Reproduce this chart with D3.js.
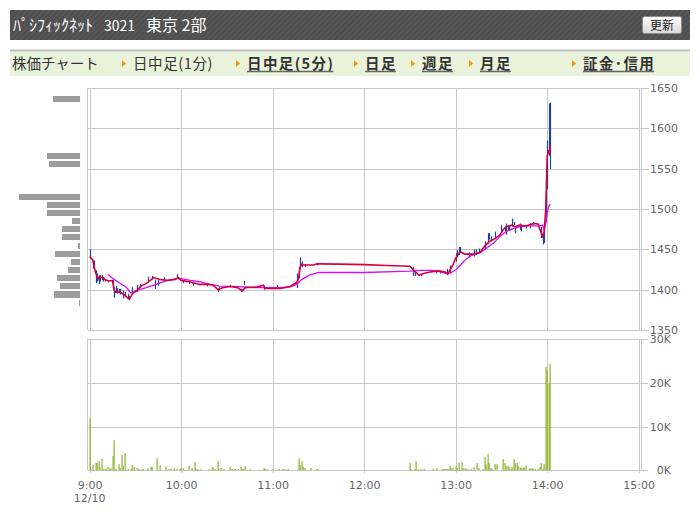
<!DOCTYPE html>
<html>
<head>
<meta charset="utf-8">
<script src="https://cdn.jsdelivr.net/npm/d3@7"></script>
<style>
body { margin: 0; background: #fff; }
svg text { font-family: "DejaVu Sans", sans-serif; }
</style>
</head>
<body>
<div id="chart"></div>
<script>
var W = 700, H = 525;
var JP = '"Noto Sans CJK JP", sans-serif';

// header + menu texts
var titleName = "ﾊﾟｼﾌｨｯｸﾈｯﾄ", titleCode = "3021", titleMarket = "東京 2部";
var refreshLabel = "更新";
var menuTitle = "株価チャート";
var navItems = ["日中足(1分)", "日中足(5分)", "日足", "週足", "月足", "証金･信用"];
var navLinked = [false, true, true, true, true, true];
var dateLabel = "12/10";

// axis ticks
var priceTicks = [1350, 1400, 1450, 1500, 1550, 1600, 1650];
var volTicks = [0, 10000, 20000, 30000];
var volTickLabels = ["0K", "10K", "20K", "30K"];
var timeTicks = [0, 60, 120, 180, 240, 300, 360]; // minutes after 9:00
var timeTickLabels = ["9:00", "10:00", "11:00", "12:00", "13:00", "14:00", "15:00"];

// 1 minute bars: [minute after 9:00, high, low]
var candles = [
  [0,1450,1439],[2,1436,1426],[3,1436,1430],[4,1424,1408],[5,1420,1410],[6,1418,1407],
  [7,1418,1410],[8,1418,1412],[9,1415,1410],[10,1412,1410],[12,1412,1409],[15,1412,1402],
  [16,1403,1390],[17,1405,1396],[18,1402,1395],[19,1401,1396],[20,1401,1394],[22,1399,1389],
  [23,1397,1391],[25,1395,1388],[26,1392,1388],[28,1403,1395],[31,1406,1397],[33,1407,1402],
  [38,1416,1410],[41,1417,1413],[43,1412,1401],[45,1412,1405],[49,1415,1410],[57,1419,1415],
  [61,1412,1408],[65,1410,1407],[68,1410,1405],[77,1408,1404],[84,1401,1397],[85,1403,1399],
  [92,1406,1403],[99,1401,1397],[101,1411,1406],[114,1403,1400],[123,1406,1403],[136,1420,1402],
  [137,1428,1414],[138,1440,1426],[139,1435,1428],[141,1432,1428],[149,1433,1430],[212,1428,1417],
  [213,1422,1417],[217,1420,1417],[225,1424,1422],[227,1424,1420],[230,1423,1420],[234,1426,1418],
  [236,1430,1420],[240,1445,1435],[241,1449,1441],[242,1453,1443],[243,1453,1447],[245,1446,1444],
  [249,1446,1440],[252,1450,1441],[253,1450,1443],[255,1451,1446],[259,1460,1450],[261,1470,1457],
  [262,1470,1462],[263,1466,1460],[266,1472,1464],[270,1480,1472],[272,1478,1472],[273,1482,1468],
  [274,1479,1474],[275,1480,1474],[277,1488,1478],[278,1484,1480],[279,1478,1470],[282,1482,1474],
  [283,1479,1472],[286,1479,1476],[289,1482,1476],[291,1484,1480],[296,1478,1464],[297,1468,1456],
  [298,1476,1458],[299,1521,1484],[300,1585,1525],[301,1631,1566],[302,1632,1550]
];

// red line: [minute, price]
var closeLine = [
  [0,1441],[2,1437],[3,1428],[4,1420],[6,1413],[7,1415],[9,1415],[10,1412.5],[12,1411],[15,1411],
  [16,1400],[17,1397],[19,1397],[21,1396],[23,1393],[26,1388],[28,1395],[31,1399],[34,1405],
  [37,1407.5],[42,1415],[46,1412.5],[51,1411.5],[56,1412.5],[58,1415],[60,1411.5],[66,1409.5],
  [72,1406.5],[78,1406.5],[81,1405.5],[84,1400],[87,1402.5],[92,1404],[97,1402.5],[100,1398.5],
  [102,1402.5],[110,1403.5],[114,1405.5],[115,1401.5],[125,1401.5],[131,1403.5],[134,1407],
  [136,1409.5],[137,1415],[138,1428],[139,1431.5],[140,1430.5],[147,1430.5],[149,1432],[164,1431.7],
  [180,1431],[195,1430],[210,1429],[213,1423],[216,1418],[219,1420],[223,1422],[229,1423.3],
  [233,1422],[235,1420],[238,1430],[240,1439],[243,1447],[246,1444],[251,1444],[256,1446],
  [259,1454],[262,1459.5],[266,1463.5],[269,1468],[271,1474],[273,1478],[277,1480],[279,1478],
  [282,1480],[286,1479],[291,1482],[294,1481.5],[295,1476],[297,1466],[298,1472],[299,1498],
  [300,1566],[301,1573],[301.5,1569],[302,1579]
];

// magenta line: [minute, price]
var avgLine = [
  [12,1419],[15,1414],[20,1408],[24,1403],[27,1396],[31,1399],[37,1402.5],[44,1407],[50,1411],
  [57,1414],[59,1414],[66,1411.5],[72,1410],[79,1406.5],[85,1404.5],[94,1404],[101,1403.5],
  [107,1402.5],[116,1402.5],[125,1402.5],[131,1403.5],[134,1405],[136,1407.5],[139,1412.5],
  [144,1418],[150,1421.3],[180,1421.3],[210,1423],[216,1424],[225,1424],[230,1422],[234,1420],
  [237,1421],[241,1426],[245,1434.6],[249,1441],[253,1444.5],[256,1446],[260,1451],[265,1458],
  [269,1466],[273,1472],[278,1476],[282,1478],[286,1479],[295,1479],[297,1480],[298,1474],
  [299,1482],[300,1495],[301,1503],[302,1506]
];

// volume per minute: [minute, shares]
var volumes = [
  [0,12000],[1,300],[2,1200],[4,1700],[5,1700],[6,2100],[7,600],[8,2600],[9,300],[10,300],[11,300],
  [12,800],[13,500],[14,300],[15,3300],[16,6900],[17,300],[19,1400],[20,500],[21,3500],[22,1000],
  [23,3900],[25,300],[27,300],[28,1200],[29,800],[31,500],[32,300],[34,300],[35,300],[38,500],
  [40,800],[41,800],[44,2800],[46,1200],[50,800],[52,300],[53,300],[55,500],[57,300],[59,300],
  [60,500],[61,500],[65,1000],[67,500],[69,1900],[70,300],[71,300],[73,300],[78,300],[80,500],
  [81,800],[82,300],[84,2100],[85,300],[86,500],[88,300],[92,800],[93,300],[95,300],[97,300],
  [99,800],[100,300],[101,300],[102,1000],[105,300],[114,500],[115,300],[116,300],[120,300],
  [124,300],[127,300],[128,300],[130,300],[137,2800],[138,1200],[139,2100],[140,800],[141,500],
  [145,500],[149,300],[150,300],
  [210,1700],[211,300],[213,300],[214,2100],[215,300],[217,300],[219,300],[225,300],[228,500],
  [231,300],[232,300],[233,300],[234,300],[235,300],[236,1000],[237,500],[238,500],[240,1000],
  [241,500],[242,1700],[244,1900],[245,500],[246,500],[247,300],[248,300],[250,300],[252,750],
  [254,1700],[255,500],[258,300],[259,3000],[260,1400],[261,3700],[262,1700],[263,500],[264,300],
  [266,1400],[267,1400],[271,2600],[272,1700],[273,1000],[274,1000],[275,750],[276,300],[277,750],
  [278,2600],[279,1700],[280,1700],[281,1000],[282,750],[283,500],[284,500],[285,750],[286,1000],
  [288,300],[289,500],[290,500],[291,300],[292,300],[294,300],[295,750],[296,1700],[297,300],
  [298,1400],[299,23700],[300,22800],[301,19800],[302,24400]
];

// volume by price (left side)
var profilePrice = [1636, 1566, 1556, 1515, 1505, 1495, 1485, 1475, 1465, 1454, 1444, 1434, 1424, 1414, 1404, 1394, 1384];
var profileShares = [13500, 16500, 15500, 30500, 16500, 16500, 4000, 9000, 9000, 1000, 12500, 4500, 6000, 11500, 10000, 13000, 500];

// layout
var plotL = 88, plotR = 641.5, gridEnd = 649;
var navX = [133, 247, 365, 422, 480, 583];

var svg = d3.select("#chart").append("svg")
    .attr("width", W)
    .attr("height", H);

var defs = svg.append("defs");
var pat = defs.append("pattern")
    .attr("id", "stripe")
    .attr("width", 4).attr("height", 4)
    .attr("patternUnits", "userSpaceOnUse")
    .attr("patternTransform", "rotate(45)");
pat.append("rect").attr("width", 4).attr("height", 4).attr("fill", "#565656");
pat.append("rect").attr("width", 1.3).attr("height", 4).attr("fill", "#4b4b4b");

var btnGrad = defs.append("linearGradient")
    .attr("id", "btn")
    .attr("x1", "0%").attr("y1", "0%").attr("x2", "0%").attr("y2", "100%");
btnGrad.append("stop").attr("offset", "0%").attr("stop-color", "#ffffff");
btnGrad.append("stop").attr("offset", "100%").attr("stop-color", "#d9d9d9");

// ---- header bar
svg.append("rect")
    .attr("x", 10).attr("y", 10)
    .attr("width", 680).attr("height", 30)
    .attr("fill", "url(#stripe)");

var title = svg.append("text")
    .attr("y", 31)
    .style("font-family", JP)
    .style("font-size", "15px")
    .attr("fill", "#fff");
title.append("tspan").attr("x", 13).text(titleName).style("font-size", "16px");
title.append("tspan").attr("x", 104).text(titleCode).style("font-size", "14px");
title.append("tspan").attr("x", 146).text(titleMarket).style("font-size", "16px");

svg.append("rect")
    .attr("x", 642.5).attr("y", 16.5)
    .attr("width", 39).attr("height", 17)
    .attr("rx", 2)
    .attr("fill", "url(#btn)")
    .attr("stroke", "#8a8a8a");
svg.append("text")
    .attr("x", 662).attr("y", 29.5)
    .attr("text-anchor", "middle")
    .style("font-family", JP)
    .style("font-size", "12px")
    .attr("fill", "#222")
    .text(refreshLabel);

// ---- menu bar
svg.append("rect")
    .attr("x", 10).attr("y", 51)
    .attr("width", 680).attr("height", 25)
    .attr("fill", "#e9f2da");
svg.append("line")
    .attr("x1", 10).attr("x2", 690)
    .attr("y1", 50.5).attr("y2", 50.5)
    .attr("stroke", "#c2c2c2")
    .attr("stroke-width", 2);

svg.append("text")
    .attr("x", 12).attr("y", 69)
    .style("font-family", JP)
    .style("font-size", "14.5px")
    .attr("fill", "#333")
    .text(menuTitle);

navItems.forEach(function(label, i) {
  var x0 = navX[i];
  svg.append("path")
      .attr("d", "M" + (x0 - 11) + ",60 L" + (x0 - 7) + ",63.5 L" + (x0 - 11) + ",67 Z")
      .attr("fill", "#f39a10");
  var t = svg.append("text")
      .attr("x", x0).attr("y", 69)
      .style("font-family", JP)
      .style("font-size", "14.5px")
      .style("font-weight", navLinked[i] ? "bold" : "normal")
      .style("letter-spacing", navLinked[i] ? "1.4px" : "0.6px")
      .attr("fill", "#333")
      .text(label);
  if (navLinked[i]) {
    var len = t.node().getComputedTextLength();
    svg.append("line")
        .attr("x1", x0).attr("x2", x0 + len - 1)
        .attr("y1", 71.5).attr("y2", 71.5)
        .attr("stroke", "#666")
        .attr("stroke-width", 1.5);
  }
});

// ---- scales
var x = d3.scaleLinear().domain([0, 360]).range([89.7, 638.7]);
var y = d3.scaleLinear().domain([1350, 1650]).range([330, 88]);
var yv = d3.scaleLinear().domain([0, 30000]).range([470.3, 339.3]);
var pw = d3.scaleLinear().domain([0, d3.max(profileShares)]).range([0, 61]);

// ---- price panel grid
var priceAxis = d3.axisRight(y)
    .tickValues(priceTicks)
    .tickSize(gridEnd - plotL)
    .tickPadding(1)
    .tickFormat(d3.format("d"));
var pg = svg.append("g")
    .attr("transform", "translate(" + plotL + ",0)")
    .call(priceAxis);
pg.select(".domain").remove();
pg.selectAll("line").attr("stroke", "#c8c8c8").attr("shape-rendering", "crispEdges");
pg.selectAll("text").attr("fill", "#666").style("font-size", "11px");

var tg1 = svg.append("g")
    .attr("transform", "translate(0,88)")
    .call(d3.axisBottom(x).tickValues(timeTicks).tickSize(242).tickFormat(""));
tg1.select(".domain").remove();
tg1.selectAll("line").attr("stroke", "#c8c8c8").attr("shape-rendering", "crispEdges");

// ---- volume panel grid
var volAxis = d3.axisRight(yv)
    .tickValues(volTicks)
    .tickSize(gridEnd - plotL - 1)
    .tickFormat(function(d, i) { return volTickLabels[i]; });
var vg = svg.append("g")
    .attr("transform", "translate(" + plotL + ",0)")
    .call(volAxis);
vg.select(".domain").remove();
vg.selectAll("line").attr("stroke", "#c8c8c8").attr("shape-rendering", "crispEdges");
vg.selectAll("text")
    .attr("x", 671 - plotL)
    .attr("text-anchor", "end")
    .attr("fill", "#666")
    .style("font-size", "11px");

var tg2 = svg.append("g")
    .attr("transform", "translate(0,339)")
    .call(d3.axisBottom(x).tickValues(timeTicks).tickSize(134).tickPadding(8)
      .tickFormat(function(d, i) { return timeTickLabels[i]; }));
tg2.select(".domain").remove();
tg2.selectAll("line").attr("stroke", "#c8c8c8").attr("shape-rendering", "crispEdges");
tg2.selectAll("text").attr("fill", "#666").style("font-size", "11px");

svg.append("text")
    .attr("x", x(0)).attr("y", 502)
    .attr("text-anchor", "middle")
    .attr("fill", "#666")
    .style("font-size", "11px")
    .text(dateLabel);

// panel borders
[[88, 330], [339, 470]].forEach(function(p) {
  [plotL - 0.5, plotR].forEach(function(bx) {
    svg.append("line")
        .attr("x1", bx).attr("x2", bx)
        .attr("y1", p[0]).attr("y2", p[1])
        .attr("stroke", "#c8c8c8")
        .attr("shape-rendering", "crispEdges");
  });
});

// ---- volume by price
svg.append("g").selectAll("rect")
    .data(profilePrice)
    .enter().append("rect")
    .attr("x", function(d, i) { return 80 - pw(profileShares[i]); })
    .attr("y", function(d) { return y(d + 5) + 1; })
    .attr("width", function(d, i) { return Math.max(1, pw(profileShares[i])); })
    .attr("height", function(d) { return y(d - 5) - y(d + 5) - 2; })
    .attr("fill", "#9c9c9c")
    .attr("shape-rendering", "crispEdges");

// ---- volume bars
svg.append("g").selectAll("rect")
    .data(volumes)
    .enter().append("rect")
    .attr("x", function(d) { return Math.round(x(d[0])) - 0.5; })
    .attr("y", function(d) { return yv(d[1]); })
    .attr("width", 1.2)
    .attr("height", function(d) { return yv(0) - yv(d[1]); })
    .attr("fill", "#8db32c");

// ---- price bars
svg.append("g").selectAll("line")
    .data(candles)
    .enter().append("line")
    .attr("x1", function(d) { return Math.round(x(d[0])) + 0.5; })
    .attr("x2", function(d) { return Math.round(x(d[0])) + 0.5; })
    .attr("y1", function(d) { return y(d[1]); })
    .attr("y2", function(d) { return y(d[2]); })
    .attr("stroke", "#1d449c")
    .attr("stroke-width", 1.2);

var line = d3.line()
    .x(function(d) { return x(d[0]); })
    .y(function(d) { return y(d[1]); });

svg.append("path")
    .datum(avgLine)
    .attr("d", line)
    .attr("fill", "none")
    .attr("stroke", "#cc11ff")
    .attr("stroke-width", 1.3);

svg.append("path")
    .datum(closeLine)
    .attr("d", line)
    .attr("fill", "none")
    .attr("stroke", "#d8003c")
    .attr("stroke-width", 1.6);
</script>
</body>
</html>
